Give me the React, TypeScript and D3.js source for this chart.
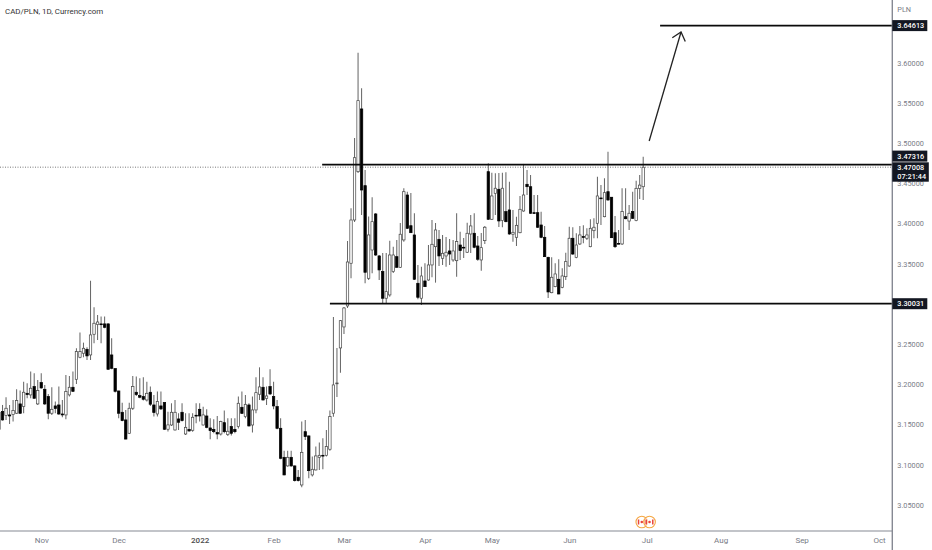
import React, { useEffect, useRef } from 'react';
import * as d3 from 'd3';

const width = 932;
const height = 550;
const axisX = 892.3;
const axisY = 531;

// daily CAD/PLN candles
const opens = [
  3.1442, 3.1661, 3.1612, 3.1620, 3.1624, 3.1641, 3.1757, 3.1724, 3.1889, 3.1869,
  3.1972, 3.1757, 3.2022, 3.1939, 3.1848, 3.1641, 3.1732, 3.1744, 3.1632, 3.1620,
  3.1869, 3.1964, 3.2063, 3.2337, 3.2387, 3.2436, 3.2366, 3.2623, 3.2743, 3.2752,
  3.2752, 3.2752, 3.2366, 3.2196, 3.1918, 3.1653, 3.1558, 3.1392, 3.1703, 3.1902,
  3.1860, 3.1848, 3.1806, 3.1902, 3.1744, 3.1632, 3.1732, 3.1773, 3.1442, 3.1495,
  3.1433, 3.1570, 3.1653, 3.1383, 3.1441, 3.1429, 3.1616, 3.1690, 3.1495, 3.1607,
  3.1458, 3.1441, 3.1400, 3.1383, 3.1524, 3.1375, 3.1475, 3.1441, 3.1475, 3.1715,
  3.1599, 3.1744, 3.1495, 3.1682, 3.1877, 3.1964, 3.1823, 3.1972, 3.1848, 3.1723,
  3.1454, 3.1093, 3.0986, 3.1093, 3.0986, 3.0845, 3.0749, 3.1412, 3.1359, 3.0874,
  3.0936, 3.1093, 3.1118, 3.1118, 3.1193, 3.1641, 3.2011, 3.2453, 3.2714, 3.2975,
  3.3506, 3.4044, 3.4645, 3.5425, 3.4471, 3.3319, 3.3671, 3.4119, 3.3597, 3.3402,
  3.3071, 3.3112, 3.3402, 3.3588, 3.3456, 3.3796, 3.4355, 3.3973, 3.3858, 3.3257,
  3.3071, 3.3286, 3.3298, 3.3485, 3.3712, 3.3804, 3.3568, 3.3597, 3.3659, 3.3547,
  3.3538, 3.3733, 3.3705, 3.3643, 3.3870, 3.3879, 3.3721, 3.3547, 3.3787, 3.4645,
  3.4053, 3.4376, 3.4426, 3.4036, 3.4148, 3.4169, 3.3867, 3.3829, 3.3886, 3.4156,
  3.4488, 3.4458, 3.4135, 3.4135, 3.3982, 3.3829, 3.3580, 3.3140, 3.3215, 3.3307,
  3.3207, 3.3339, 3.3472, 3.3817, 3.3580, 3.3746, 3.3837, 3.3817, 3.3712, 3.3911,
  3.4003, 3.4318, 3.4085, 3.4396, 3.4327, 3.3886, 3.3753, 3.3746, 3.4085, 3.4031,
  3.4148, 3.4036, 3.4437, 3.4458,
];
const highs = [
  3.1682, 3.1744, 3.1840, 3.1744, 3.1806, 3.1939, 3.1923, 3.2034, 3.2014, 3.2159,
  3.2138, 3.2055, 3.2138, 3.1993, 3.1881, 3.1964, 3.1786, 3.1972, 3.1806, 3.2117,
  3.2105, 3.2159, 3.2449, 3.2644, 3.2519, 3.2461, 3.3290, 3.2959, 3.2863, 3.2843,
  3.2843, 3.2760, 3.2573, 3.2200, 3.1922, 3.1773, 3.1682, 3.1773, 3.2105, 3.2097,
  3.2076, 3.2088, 3.2034, 3.1972, 3.1869, 3.1910, 3.1910, 3.1777, 3.1661, 3.1765,
  3.1806, 3.1640, 3.1765, 3.1640, 3.1640, 3.1640, 3.1765, 3.1765, 3.1723, 3.1690,
  3.1578, 3.1566, 3.1607, 3.1549, 3.1674, 3.1578, 3.1578, 3.1578, 3.1848, 3.1910,
  3.1868, 3.1765, 3.1848, 3.2088, 3.2212, 3.2088, 3.1972, 3.2188, 3.2034, 3.1806,
  3.1578, 3.1176, 3.1176, 3.1176, 3.0990, 3.0936, 3.1537, 3.1558, 3.1363, 3.1102,
  3.1226, 3.1276, 3.1330, 3.1433, 3.1674, 3.2838, 3.2453, 3.2801, 3.2963, 3.3783,
  3.4190, 3.5064, 3.6125, 3.5682, 3.4666, 3.4086, 3.4327, 3.4131, 3.3609, 3.3634,
  3.3634, 3.3787, 3.3712, 3.3796, 3.4007, 3.4439, 3.4396, 3.4380, 3.4128, 3.3485,
  3.3464, 3.3506, 3.3733, 3.4044, 3.4007, 3.3920, 3.3858, 3.3833, 3.3808, 3.3796,
  3.4128, 3.3899, 3.3820, 3.4011, 3.4106, 3.4128, 3.3845, 3.3883, 3.3970, 3.4749,
  3.4632, 3.4625, 3.4629, 3.4632, 3.4637, 3.4521, 3.4169, 3.4085, 3.4343, 3.4741,
  3.4666, 3.4604, 3.4355, 3.4355, 3.4148, 3.3970, 3.3588, 3.3580, 3.3506, 3.3556,
  3.3444, 3.3638, 3.3961, 3.3954, 3.3879, 3.3970, 3.3978, 3.3941, 3.4053, 3.4065,
  3.4583, 3.4480, 3.4563, 3.4894, 3.4330, 3.4094, 3.3920, 3.4438, 3.4438, 3.4231,
  3.4396, 3.4533, 3.4604, 3.4831,
];
const lows = [
  3.1433, 3.1549, 3.1558, 3.1508, 3.1537, 3.1632, 3.1632, 3.1641, 3.1827, 3.1827,
  3.1823, 3.1744, 3.1947, 3.1744, 3.1566, 3.1620, 3.1641, 3.1620, 3.1591, 3.1566,
  3.1848, 3.1906, 3.2005, 3.2325, 3.2337, 3.2304, 3.2304, 3.2511, 3.2553, 3.2511,
  3.2698, 3.2180, 3.2188, 3.1898, 3.1579, 3.1541, 3.1317, 3.1384, 3.1682, 3.1856,
  3.1827, 3.1798, 3.1786, 3.1732, 3.1599, 3.1599, 3.1682, 3.1433, 3.1413, 3.1483,
  3.1425, 3.1433, 3.1537, 3.1371, 3.1412, 3.1412, 3.1516, 3.1537, 3.1490, 3.1454,
  3.1317, 3.1392, 3.1317, 3.1363, 3.1392, 3.1359, 3.1363, 3.1392, 3.1450, 3.1632,
  3.1578, 3.1475, 3.1400, 3.1640, 3.1806, 3.1798, 3.1744, 3.1868, 3.1690, 3.1441,
  3.1068, 3.0869, 3.0977, 3.0977, 3.0791, 3.0791, 3.0720, 3.1309, 3.0832, 3.0853,
  3.0928, 3.0936, 3.0944, 3.1102, 3.1176, 3.1598, 3.1843, 3.2145, 3.2627, 3.2950,
  3.3319, 3.4019, 3.4629, 3.4106, 3.3257, 3.3298, 3.3382, 3.3597, 3.3298, 3.3009,
  3.3012, 3.3091, 3.3385, 3.3447, 3.3447, 3.3775, 3.3932, 3.3883, 3.3298, 3.3058,
  3.2987, 3.3211, 3.3289, 3.3332, 3.3265, 3.3472, 3.3485, 3.3464, 3.3485, 3.3526,
  3.3339, 3.3547, 3.3572, 3.3634, 3.3634, 3.3692, 3.3538, 3.3414, 3.3746, 3.4044,
  3.4044, 3.4106, 3.3957, 3.3954, 3.4016, 3.3861, 3.3775, 3.3721, 3.3879, 3.4147,
  3.4355, 3.4119, 3.4119, 3.3945, 3.3817, 3.3584, 3.3074, 3.3133, 3.3207, 3.3120,
  3.3195, 3.3298, 3.3464, 3.3609, 3.3568, 3.3733, 3.3755, 3.3796, 3.3705, 3.3817,
  3.3817, 3.3982, 3.4078, 3.4284, 3.3821, 3.3696, 3.3742, 3.3734, 3.4053, 3.3920,
  3.4057, 3.4028, 3.4305, 3.4293,
];
const closes = [
  3.1649, 3.1558, 3.1703, 3.1607, 3.1674, 3.1798, 3.1641, 3.1902, 3.1873, 3.1952,
  3.1827, 3.1923, 3.1956, 3.1757, 3.1641, 3.1690, 3.1699, 3.1632, 3.1620, 3.1910,
  3.1964, 3.1914, 3.2407, 3.2407, 3.2449, 3.2354, 3.2615, 3.2760, 3.2776, 3.2747,
  3.2710, 3.2188, 3.2200, 3.1914, 3.1641, 3.1549, 3.1320, 3.1703, 3.1972, 3.1873,
  3.1840, 3.1815, 3.1889, 3.1753, 3.1649, 3.1786, 3.1695, 3.1442, 3.1496, 3.1653,
  3.1653, 3.1529, 3.1549, 3.1466, 3.1421, 3.1591, 3.1607, 3.1607, 3.1620, 3.1466,
  3.1425, 3.1412, 3.1383, 3.1537, 3.1412, 3.1417, 3.1392, 3.1412, 3.1765, 3.1640,
  3.1752, 3.1483, 3.1682, 3.1897, 3.1968, 3.1806, 3.1856, 3.1881, 3.1732, 3.1454,
  3.1081, 3.0874, 3.1093, 3.0986, 3.0803, 3.0803, 3.1155, 3.1350, 3.0927, 3.0944,
  3.1110, 3.1118, 3.1110, 3.1226, 3.1599, 3.1993, 3.2017, 3.2792, 3.2950, 3.3522,
  3.4044, 3.4819, 3.5528, 3.4417, 3.3394, 3.3858, 3.4023, 3.3609, 3.3423, 3.3071,
  3.3153, 3.3609, 3.3609, 3.3456, 3.3867, 3.4396, 3.3941, 3.3886, 3.3307, 3.3083,
  3.3348, 3.3215, 3.3485, 3.3742, 3.3920, 3.3597, 3.3630, 3.3643, 3.3621, 3.3659,
  3.3775, 3.3663, 3.3700, 3.3879, 3.3970, 3.3705, 3.3556, 3.3700, 3.3954, 3.4053,
  3.4343, 3.4439, 3.4032, 3.4439, 3.4023, 3.3870, 3.3891, 3.3978, 3.4177, 3.4355,
  3.4458, 3.4128, 3.4130, 3.3954, 3.3829, 3.3588, 3.3149, 3.3332, 3.3373, 3.3124,
  3.3348, 3.3526, 3.3817, 3.3621, 3.3733, 3.3858, 3.3830, 3.3858, 3.3941, 3.3954,
  3.4343, 3.4313, 3.4384, 3.4293, 3.3824, 3.3712, 3.3749, 3.4148, 3.4060, 3.4128,
  3.4065, 3.4438, 3.4478, 3.4700,
];

const priceTicks = [3.05, 3.1, 3.15, 3.2, 3.25, 3.35, 3.4, 3.45, 3.5, 3.55, 3.6];
const monthLabels = ['Nov', 'Dec', '2022', 'Feb', 'Mar', 'Apr', 'May', 'Jun', 'Jul', 'Aug', 'Sep', 'Oct'];
const monthBars = [12, 34, 57, 78, 98, 121, 140, 162, 184, 205, 228, 250];

// drawn levels: price, first bar
const levelPrices = [3.64613, 3.47316, 3.30031];
const levelStarts = [187.8, 91.8, 94];
const lastPrice = 3.47008;
const countdown = '07:21:44';
const arrowBars = [184.7, 193.75];
const arrowPrices = [3.5027, 3.6382];
const eventBars = [182.6, 184.8];

const fontFamily = 'Roboto, sans-serif';
const tagColor = '#131722';
const axisColor = '#868993';
const labelColor = '#787b86';

export default function App() {
  const ref = useRef<SVGSVGElement>(null);

  useEffect(() => {
    const svg = d3.select(ref.current);
    svg.selectAll('*').remove();

    const x = d3.scaleLinear().domain([0, 183]).range([-1, 643.2]);
    const y = d3.scaleLinear().domain([3.05, 3.6]).range([505, 62.7]);

    // last price dotted line goes under everything
    svg.append('line')
      .attr('x1', 0).attr('x2', axisX)
      .attr('y1', y(lastPrice)).attr('y2', y(lastPrice))
      .attr('stroke', '#555').attr('stroke-width', 0.8).attr('stroke-dasharray', '1 1.5');

    const bars = svg.append('g')
      .selectAll('g')
      .data(opens.map((o, i) => ({ i, o, h: highs[i], l: lows[i], c: closes[i] })))
      .join('g');

    bars.append('line')
      .attr('x1', d => x(d.i)).attr('x2', d => x(d.i))
      .attr('y1', d => y(d.h)).attr('y2', d => y(d.l))
      .attr('stroke', '#6a6a6a').attr('stroke-width', 1.05);

    bars.append('rect')
      .attr('x', d => x(d.i) - 1.2)
      .attr('width', 2.4)
      .attr('y', d => y(Math.max(d.o, d.c)))
      .attr('height', d => Math.max(0.8, Math.abs(y(d.o) - y(d.c))))
      .attr('fill', d => (d.c >= d.o ? '#fff' : '#000'))
      .attr('stroke', d => (d.c >= d.o ? '#444' : '#000'))
      .attr('stroke-width', 0.7);

    // horizontal levels
    svg.append('g')
      .selectAll('line')
      .data(levelPrices)
      .join('line')
      .attr('x1', (_, i) => x(levelStarts[i])).attr('x2', axisX)
      .attr('y1', d => y(d)).attr('y2', d => y(d))
      .attr('stroke', '#0a0a0a').attr('stroke-width', 1.7);

    // arrow up to the target
    const ax0 = x(arrowBars[0]);
    const ay0 = y(arrowPrices[0]);
    const ax1 = x(arrowBars[1]);
    const ay1 = y(arrowPrices[1]);
    const angle = Math.atan2(ay1 - ay0, ax1 - ax0);
    const barb = (a: number) => [ax1 - 10.5 * Math.cos(angle + a), ay1 - 10.5 * Math.sin(angle + a)];
    const arrow = d3.line();
    svg.append('path')
      .attr('d', arrow([[ax0, ay0], [ax1, ay1]]))
      .attr('fill', 'none').attr('stroke', '#222').attr('stroke-width', 1.3);
    svg.append('path')
      .attr('d', arrow([barb(0.7) as [number, number], [ax1, ay1], barb(-0.7) as [number, number]]))
      .attr('fill', 'none').attr('stroke', '#222').attr('stroke-width', 1.3);

    // canada flag event marks
    const events = svg.append('g')
      .selectAll('g')
      .data(eventBars)
      .join('g')
      .attr('transform', d => `translate(${x(d)},522)`);
    events.append('circle')
      .attr('r', 5.8).attr('fill', '#fff').attr('fill-opacity', 0.6)
      .attr('stroke', '#f5a742').attr('stroke-width', 1.1);
    events.append('rect').attr('x', -4).attr('y', -2.5).attr('width', 1.5).attr('height', 5).attr('fill', '#e8453c');
    events.append('rect').attr('x', 2.5).attr('y', -2.5).attr('width', 1.5).attr('height', 5).attr('fill', '#e8453c');
    events.append('circle').attr('r', 1.3).attr('fill', '#e8453c');

    // axes
    const timeAxis = d3.axisBottom(x)
      .tickValues(monthBars)
      .tickSize(0)
      .tickPadding(6)
      .tickFormat((_, i) => monthLabels[i]);
    const bottom = svg.append('g').attr('transform', `translate(0,${axisY})`).call(timeAxis);
    bottom.select('.domain').remove();
    bottom.selectAll('text')
      .attr('fill', (_, i) => (monthLabels[i] === '2022' ? '#4a4a4a' : labelColor))
      .attr('font-family', fontFamily)
      .attr('font-weight', (_, i) => (monthLabels[i] === '2022' ? 500 : 400))
      .attr('font-size', 8);

    const priceAxis = d3.axisRight(y)
      .tickValues(priceTicks)
      .tickSize(0)
      .tickPadding(5)
      .tickFormat(d => d3.format('.5f')(d as number));
    const right = svg.append('g').attr('transform', `translate(${axisX},0)`).call(priceAxis);
    right.select('.domain').remove();
    right.selectAll('text')
      .attr('fill', labelColor)
      .attr('font-family', fontFamily)
      .attr('font-size', 7.3);

    svg.append('line')
      .attr('x1', 0).attr('x2', axisX)
      .attr('y1', axisY).attr('y2', axisY)
      .attr('stroke', axisColor).attr('stroke-width', 1.1);
    svg.append('line')
      .attr('x1', axisX).attr('x2', axisX)
      .attr('y1', 0).attr('y2', height)
      .attr('stroke', axisColor).attr('stroke-width', 1.4);

    // price tags on the axis
    const tagText = (label: string, cy: number) =>
      svg.append('text')
        .attr('x', axisX + 5).attr('y', cy).attr('dy', '0.35em')
        .attr('fill', '#fff')
        .attr('font-family', fontFamily)
        .attr('font-weight', 500)
        .attr('font-size', 7.3)
        .text(label);
    const tagBox = (top: number, h: number, w: number) =>
      svg.append('rect')
        .attr('x', axisX).attr('y', top)
        .attr('width', w).attr('height', h)
        .attr('fill', tagColor);

    const fmt = d3.format('.5f');
    tagBox(y(levelPrices[0]) - 5.5, 11, 35);
    tagText(fmt(levelPrices[0]), y(levelPrices[0]));
    tagBox(y(levelPrices[2]) - 5.5, 11, 35);
    tagText(fmt(levelPrices[2]), y(levelPrices[2]));
    tagBox(150.6, 11, 35);
    tagText(fmt(levelPrices[1]), 156);
    tagBox(162.3, 19.4, 36.5);
    tagText(fmt(lastPrice), 167);
    tagText(countdown, 176.5);

    svg.append('text')
      .attr('x', axisX + 5).attr('y', 9.5).attr('dy', '0.35em')
      .attr('fill', labelColor)
      .attr('font-family', fontFamily)
      .attr('font-size', 7.3)
      .text('PLN');

    svg.append('text')
      .attr('x', 5).attr('y', 11).attr('dy', '0.35em')
      .attr('fill', '#333')
      .attr('font-family', fontFamily)
      .attr('font-size', 7.9)
      .text('CAD/PLN, 1D, Currency.com');
  }, []);

  return (
    <svg
      ref={ref}
      width={width}
      height={height}
      style={{ position: 'absolute', left: 0, top: 0, background: '#fff' }}
    />
  );
}
